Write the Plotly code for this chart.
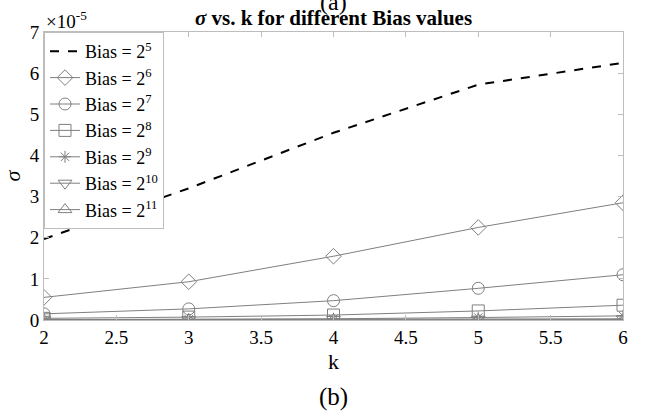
import plotly.graph_objects as go

k = [2, 3, 4, 5, 6]
bias_labels = ["Bias = 2<sup>5</sup>", "Bias = 2<sup>6</sup>", "Bias = 2<sup>7</sup>",
               "Bias = 2<sup>8</sup>", "Bias = 2<sup>9</sup>", "Bias = 2<sup>10</sup>",
               "Bias = 2<sup>11</sup>"]
# sigma values in units of 1e-5 (axis shows the ×10^-5 factor)
sigma_b5 = [1.97, 3.20, 4.55, 5.72, 6.25]
sigma_b6 = [0.55, 0.93, 1.55, 2.25, 2.85]
sigma_b7 = [0.15, 0.27, 0.47, 0.77, 1.10]
sigma_b8 = [0.04, 0.07, 0.12, 0.22, 0.36]
sigma_b9 = [0.01, 0.02, 0.03, 0.06, 0.10]
sigma_b10 = [0.005, 0.008, 0.012, 0.02, 0.03]
sigma_b11 = [0.002, 0.003, 0.005, 0.008, 0.012]

series = [sigma_b5, sigma_b6, sigma_b7, sigma_b8, sigma_b9, sigma_b10, sigma_b11]
symbols = [None, "diamond-open", "circle-open", "square-open", "asterisk-open",
           "triangle-down-open", "triangle-up-open"]

FONT = "Liberation Serif"
GRAY = "#7f7f7f"

tmpl = go.layout.Template(layout=dict(font=dict(color="black")))

fig = go.Figure()
for vals, lab, sym in zip(series, bias_labels, symbols):
    if sym is None:
        fig.add_trace(go.Scatter(x=k, y=vals, name=lab, mode="lines",
                                 line=dict(color="black", width=2, dash="dash")))
    else:
        fig.add_trace(go.Scatter(x=k, y=vals, name=lab, mode="lines+markers",
                                 line=dict(color=GRAY, width=1),
                                 marker=dict(symbol=sym, size=12 if sym != "asterisk-open" else 10,
                                             color=GRAY, line=dict(color=GRAY, width=1))))

fig.update_layout(
    template=tmpl,
    width=649, height=412,
    margin=dict(l=44, r=26, t=32, b=92),
    paper_bgcolor="white", plot_bgcolor="white",
    title=dict(text="<b><i>σ</i> vs. k for different Bias values</b>", x=0.5, xref="paper",
               xanchor="center", y=1 - 18 / 412, yanchor="middle",
               font=dict(family=FONT, size=21)),
    showlegend=True,
)
fig.update_xaxes(range=[2, 6], tickmode="linear", tick0=2, dtick=0.5,
                 showline=True, linecolor="#bdbdbd", linewidth=1, mirror="ticks",
                 ticks="inside", ticklen=5, tickcolor="#bdbdbd", showgrid=False, zeroline=False,
                 tickfont=dict(family=FONT, size=19),
                 title=dict(text="k", font=dict(family=FONT, size=22), standoff=6))
fig.update_yaxes(range=[0, 7], tickmode="linear", tick0=0, dtick=1,
                 showline=True, linecolor="#bdbdbd", linewidth=1, mirror="ticks",
                 ticks="inside", ticklen=5, tickcolor="#bdbdbd", showgrid=False, zeroline=False,
                 tickfont=dict(family=FONT, size=19),
                 title=dict(text="<i>σ</i>", font=dict(family=FONT, size=22), standoff=4))
fig.update_layout(legend=dict(x=0, y=1, xanchor="left", yanchor="top", bgcolor="white",
                              bordercolor="#bdbdbd", borderwidth=1, tracegroupgap=0,
                              font=dict(family=FONT, size=18), itemwidth=30))

fig.add_annotation(text="×10<sup>-5</sup>", xref="paper", yref="paper", x=0.0, y=1.0,
                   xanchor="left", yanchor="bottom", showarrow=False, yshift=-2,
                   font=dict(family=FONT, size=19))
fig.add_annotation(text="(a)", xref="paper", yref="paper", x=0.5, y=1 + 30 / 288,
                   xanchor="center", yanchor="middle", showarrow=False,
                   font=dict(family=FONT, size=24))
fig.add_annotation(text="(b)", xref="paper", yref="paper", x=0.5, y=-(397 - 320) / 288,
                   xanchor="center", yanchor="middle", showarrow=False,
                   font=dict(family=FONT, size=25))

fig.write_html("out.html")
